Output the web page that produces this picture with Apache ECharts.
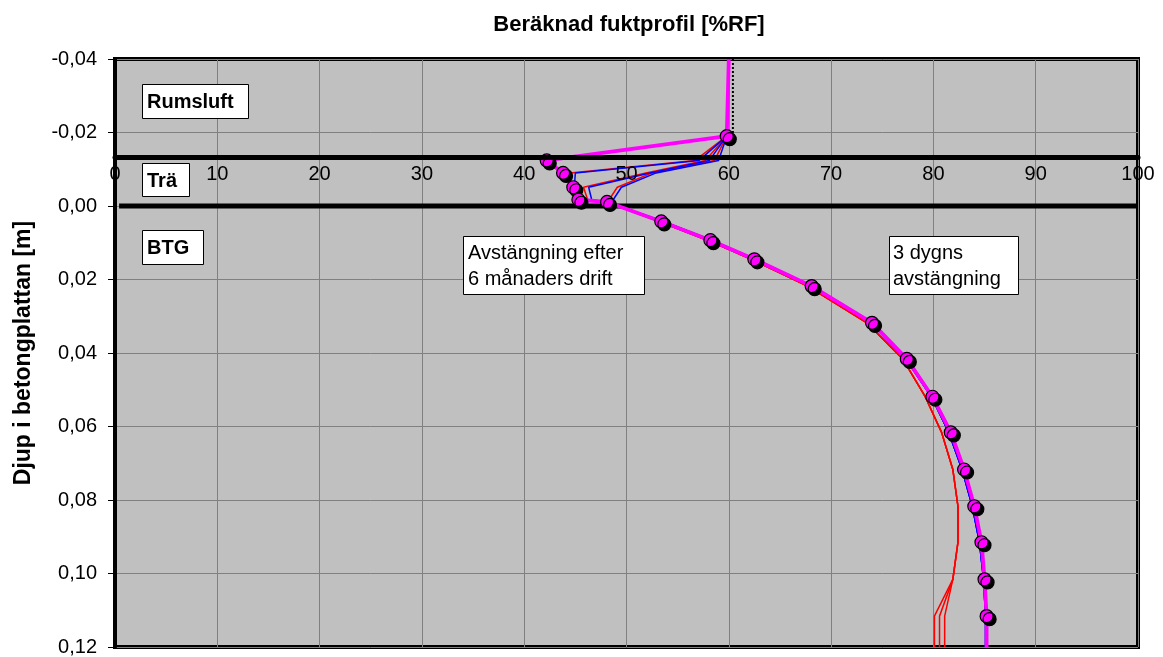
<!DOCTYPE html>
<html>
<head>
<meta charset="utf-8">
<script src="https://cdn.jsdelivr.net/npm/echarts@6/dist/echarts.min.js"></script>
<style>
html,body{margin:0;padding:0;background:#fff;}
#chart{width:1163px;height:657px;}
</style>
</head>
<body>
<div id="chart"></div>
<script>
// ---- data ----
const titleText = 'Beräknad fuktprofil [%RF]';
const yAxisTitle = 'Djup i betongplattan [m]';
const xTicks = [0, 10, 20, 30, 40, 50, 60, 70, 80, 90, 100];
const yTicks = [-0.04, -0.02, 0.00, 0.02, 0.04, 0.06, 0.08, 0.10, 0.12];
const woodTopDepth = -0.01335;   // upper boundary of the wood layer (x-axis crossing)
const woodBottomDepth = 0.0;     // wood / concrete boundary

// depth of each calculated point [m]
const depths = [-0.04, -0.019, -0.0124, -0.009, -0.0051, -0.0017, -0.0011,
  0.0042, 0.0093, 0.0145, 0.0218, 0.0318, 0.0416, 0.0519, 0.0616, 0.0717,
  0.0817, 0.0915, 0.1016, 0.1116, 0.12];

// magenta profile (with markers), one value per depth
const magenta = [60.0, 59.8, 42.2, 43.8, 44.8, 45.3, 48.1,
  53.4, 58.2, 62.5, 68.1, 74.0, 77.4, 79.9, 81.7, 83.0,
  84.0, 84.7, 85.0, 85.2, 85.2];

// red and blue profiles: one value per depth, starting from depths[1]
const red1 = [59.8, 56.7, 44.5, 44.6, 45.2, 48.0, 53.2, 57.9, 62.2, 67.7, 73.5, 77.0, 79.2, 80.8, 81.9, 82.4, 82.4, 81.9, 80.1, 80.1];
const red2 = [59.8, 57.7, 51.9, 45.8, 46.2, 48.0, 53.2, 57.9, 62.2, 67.7, 73.5, 77.0, 79.2, 80.8, 81.9, 82.4, 82.4, 81.9, 80.6, 80.6];
const red3 = [59.8, 58.6, 52.5, 49.1, 48.3, 48.0, 53.2, 57.9, 62.2, 67.7, 73.5, 77.0, 79.2, 80.8, 81.9, 82.4, 82.4, 81.9, 81.1, 81.1];
const blue1 = [59.8, 57.1, 45.0, 44.9, 45.4, 48.1, 53.6, 58.3, 62.6, 68.1, 73.9, 77.3, 79.8, 81.5, 82.8, 83.8, 84.5, 84.9, 85.1, 85.1];
const blue2 = [59.8, 58.1, 52.3, 46.3, 46.6, 48.1, 53.6, 58.3, 62.6, 68.1, 73.9, 77.3, 79.8, 81.5, 82.8, 83.8, 84.5, 84.9, 85.1, 85.1];
const blue3 = [59.8, 59.0, 52.9, 49.5, 48.7, 48.1, 53.6, 58.3, 62.6, 68.1, 73.9, 77.3, 79.8, 81.5, 82.8, 83.8, 84.5, 84.9, 85.1, 85.1];

// dotted black line at the top (room air)
const blackDotX = [60.4, 60.4];
const blackDotDepth = [-0.04, -0.018];

// annotations
const labels = ['Rumsluft', 'Trä', 'BTG'];
const note1 = ['Avstängning efter', '6 månaders drift'];
const note2 = ['3 dygns', 'avstängning'];

// ---- chart ----
const FONT = '"Liberation Sans", Arial, Helvetica, sans-serif';
const grid = {left: 115, top: 59, width: 1023, height: 589};
const yMin = -0.04, yMax = 0.12;
const axisOffset = -((woodTopDepth - yMin) / (yMax - yMin)) * grid.height;

function pairs(xs, ds) { return xs.map((v, i) => [v, ds[i]]); }
const lineDepths = depths.slice(1);

const magentaData = magenta.map((v, i) => {
  const item = {value: [v, depths[i]]};
  if (i === 0 || i === magenta.length - 1) item.symbol = 'none';
  return item;
});

function thinLine(name, color, xs) {
  return {
    name: name, type: 'line', data: pairs(xs, lineDepths), symbol: 'none',
    lineStyle: {color: color, width: 1.5}, itemStyle: {color: color},
    silent: true, animation: false, z: 3
  };
}

const chart = echarts.init(document.getElementById('chart'), null, {renderer: 'canvas'});

const fmtY = v => { if (Math.abs(v) < 1e-9) v = 0; return v.toFixed(2).replace('.', ','); };

const option = {
  animation: false,
  backgroundColor: '#ffffff',
  grid: Object.assign({show: true, backgroundColor: '#C0C0C0', borderColor: '#000', borderWidth: 4}, grid),
  xAxis: [
    {
      type: 'value', min: xTicks[0], max: xTicks[xTicks.length - 1], interval: 10,
      position: 'top',
      axisLine: {show: false}, axisTick: {show: false}, axisLabel: {show: false},
      splitLine: {show: true, lineStyle: {color: '#808080', width: 1}}
    },
    {
      type: 'value', min: xTicks[0], max: xTicks[xTicks.length - 1], interval: 10,
      position: 'top', offset: axisOffset, z: 10,
      axisLine: {show: true, onZero: false, lineStyle: {color: '#000', width: 5}},
      axisTick: {show: false},
      axisLabel: {inside: true, margin: 7, color: '#000', fontSize: 20, fontFamily: FONT},
      splitLine: {show: false}
    }
  ],
  yAxis: {
    type: 'value', inverse: true, min: yMin, max: yMax, interval: 0.02,
    name: yAxisTitle, nameLocation: 'middle', nameGap: 80, nameRotate: 90,
    nameTextStyle: {fontSize: 23, fontWeight: 'bold', color: '#000', fontFamily: FONT},
    axisLine: {show: true, lineStyle: {color: '#000', width: 4}},
    axisTick: {show: true, length: 7, lineStyle: {color: '#000', width: 1}},
    axisLabel: {margin: 18, color: '#000', fontSize: 20, fontFamily: FONT, formatter: fmtY},
    splitLine: {show: true, lineStyle: {color: '#808080', width: 1}}
  },
  series: [
    {
      name: 'gräns', type: 'line', data: [[0.4, woodBottomDepth], [100, woodBottomDepth]],
      symbol: 'none', lineStyle: {color: '#000', width: 5}, silent: true, z: 2
    },
    thinLine('r1', '#FF0000', red1),
    thinLine('r2', '#FF0000', red2),
    thinLine('r3', '#FF0000', red3),
    thinLine('b1', '#0000FF', blue1),
    thinLine('b2', '#0000FF', blue2),
    thinLine('b3', '#0000FF', blue3),
    {
      name: 'svart', type: 'line', data: pairs(blackDotX, blackDotDepth), symbol: 'none',
      lineStyle: {color: '#000', width: 2, type: 'dotted'}, silent: true, z: 3
    },
    {
      name: 'magenta', type: 'line', data: magentaData,
      symbol: 'circle', symbolSize: 13, showAllSymbol: true,
      lineStyle: {color: '#FF00FF', width: 3.8},
      itemStyle: {color: '#FF00FF', borderColor: '#000', borderWidth: 1.2,
        shadowColor: '#000', shadowOffsetX: 3, shadowOffsetY: 3, shadowBlur: 0.01},
      silent: true, z: 4
    }
  ],
  graphic: [
    {type: 'text', x: 629, y: 25, z: 20, style: {text: titleText, font: 'bold 22px ' + FONT, fill: '#000', textAlign: 'center', textVerticalAlign: 'middle'}},
    // Rumsluft
    {type: 'rect', shape: {x: 142.5, y: 84.5, width: 106, height: 34}, style: {fill: '#fff', stroke: '#000', lineWidth: 1}, z: 20},
    {type: 'text', x: 147, y: 102, z: 21, style: {text: labels[0], font: 'bold 20px ' + FONT, fill: '#000', textVerticalAlign: 'middle'}},
    // Trä
    {type: 'rect', shape: {x: 142.5, y: 163.5, width: 47, height: 33}, style: {fill: '#fff', stroke: '#000', lineWidth: 1}, z: 20},
    {type: 'text', x: 147, y: 181, z: 21, style: {text: labels[1], font: 'bold 20px ' + FONT, fill: '#000', textVerticalAlign: 'middle'}},
    // BTG
    {type: 'rect', shape: {x: 142.5, y: 230.5, width: 61, height: 34}, style: {fill: '#fff', stroke: '#000', lineWidth: 1}, z: 20},
    {type: 'text', x: 147, y: 248, z: 21, style: {text: labels[2], font: 'bold 20px ' + FONT, fill: '#000', textVerticalAlign: 'middle'}},
    // note 1
    {type: 'rect', shape: {x: 463.5, y: 236.5, width: 181, height: 58}, style: {fill: '#fff', stroke: '#000', lineWidth: 1}, z: 20},
    {type: 'text', x: 468, y: 253, z: 21, style: {text: note1[0], font: '20px ' + FONT, fill: '#000', textVerticalAlign: 'middle'}},
    {type: 'text', x: 468, y: 279, z: 21, style: {text: note1[1], font: '20px ' + FONT, fill: '#000', textVerticalAlign: 'middle'}},
    // note 2
    {type: 'rect', shape: {x: 889.5, y: 236.5, width: 129, height: 58}, style: {fill: '#fff', stroke: '#000', lineWidth: 1}, z: 20},
    {type: 'text', x: 893, y: 253, z: 21, style: {text: note2[0], font: '20px ' + FONT, fill: '#000', textVerticalAlign: 'middle'}},
    {type: 'text', x: 893, y: 279, z: 21, style: {text: note2[1], font: '20px ' + FONT, fill: '#000', textVerticalAlign: 'middle'}}
  ]
};
chart.setOption(option);
</script>
</body>
</html>
